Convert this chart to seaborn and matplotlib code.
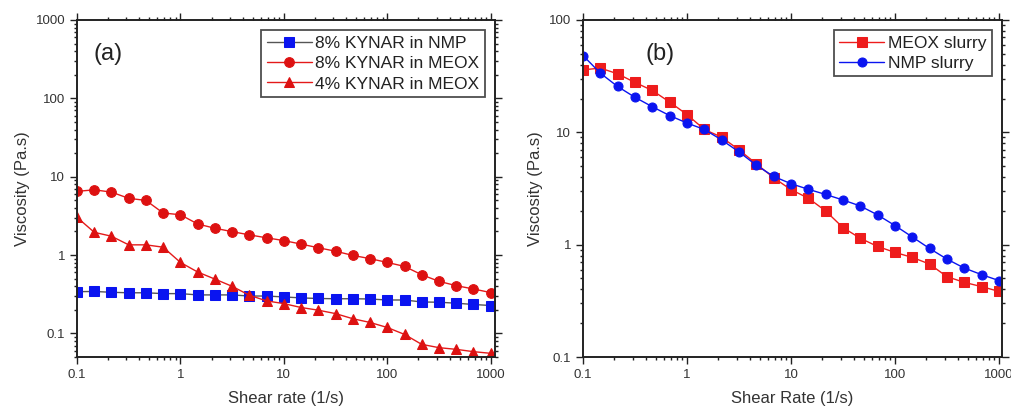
import numpy as np
import pandas as pd
import matplotlib
matplotlib.use("Agg")
import matplotlib.pyplot as plt
import matplotlib.ticker as mticker
import seaborn as sns

# shear rate grid (6 points per decade, 0.1 .. 1000)
shear = [0.1, 0.147, 0.215, 0.316, 0.464, 0.681, 1.0, 1.47, 2.15, 3.16, 4.64, 6.81,
         10.0, 14.7, 21.5, 31.6, 46.4, 68.1, 100.0, 147.0, 215.0, 316.0, 464.0, 681.0, 1000.0]

# panel (a)
kynar8_nmp = [0.341, 0.343, 0.335, 0.330, 0.330, 0.322, 0.322, 0.310, 0.310, 0.310, 0.300, 0.300,
              0.292, 0.284, 0.279, 0.277, 0.277, 0.275, 0.267, 0.267, 0.252, 0.250, 0.243, 0.234, 0.227]
kynar8_meox = [6.5, 6.8, 6.36, 5.3, 4.98, 3.44, 3.27, 2.49, 2.2, 1.99, 1.81, 1.66,
               1.53, 1.38, 1.24, 1.12, 0.99, 0.90, 0.805, 0.716, 0.561, 0.462, 0.407, 0.369, 0.332]
kynar4_meox = [3.03, 1.95, 1.74, 1.35, 1.35, 1.26, 0.805, 0.607, 0.494, 0.399, 0.307, 0.260,
               0.240, 0.214, 0.198, 0.179, 0.154, 0.138, 0.119, 0.097, 0.0725, 0.0658, 0.0626, 0.0585, 0.0557]

# panel (b)
meox_slurry = [36.0, 37.3, 33.2, 27.8, 23.6, 18.6, 14.4, 10.6, 9.06, 6.99, 5.25, 3.94,
               3.09, 2.59, 2.0, 1.42, 1.14, 0.964, 0.853, 0.77, 0.672, 0.519, 0.462, 0.423, 0.384]
nmp_slurry = [48.3, 33.6, 25.6, 20.5, 16.9, 14.1, 12.1, 10.6, 8.57, 6.70, 5.1, 4.05,
              3.49, 3.11, 2.80, 2.50, 2.21, 1.84, 1.48, 1.17, 0.925, 0.744, 0.619, 0.541, 0.479]

xticks = [0.1, 1, 10, 100, 1000]
xticklabels = ["0.1", "1", "10", "100", "1000"]
yticks_a = [0.1, 1, 10, 100, 1000]
yticklabels_a = ["0.1", "1", "10", "100", "1000"]
yticks_b = [0.1, 1, 10, 100]
yticklabels_b = ["0.1", "1", "10", "100"]

sns.set_style("ticks")
plt.rcParams["font.family"] = ["Liberation Sans", "DejaVu Sans"]

fig = plt.figure(figsize=(10.12, 4.09), dpi=100)
W, H = 1012, 409
axA = fig.add_axes([77 / W, 1 - 357 / H, (495 - 77) / W, (357 - 20) / H])
axB = fig.add_axes([583 / W, 1 - 357 / H, (1002 - 583) / W, (357 - 20) / H])

RED = "#ee1c1c"
BLUE = "#0a14f0"
GRAY = "#555555"

def series(ax, y, label, color, lc, marker, ms):
    df = pd.DataFrame({"x": shear, "y": y})
    sns.lineplot(data=df, x="x", y="y", ax=ax, color=lc, marker=marker, markersize=ms,
                 markerfacecolor=color, markeredgecolor=color, linewidth=1.0, label=label)

for ax in (axA, axB):
    ax.set_xscale("log")
    ax.set_yscale("log")

series(axA, kynar8_nmp, "8% KYNAR in NMP", BLUE, GRAY, "s", 6.5)
series(axA, kynar8_meox, "8% KYNAR in MEOX", "#dd1111", "#e41a1a", "o", 7)
series(axA, kynar4_meox, "4% KYNAR in MEOX", "#dd1111", "#e41a1a", "^", 7.5)

series(axB, meox_slurry, "MEOX slurry", RED, RED, "s", 6.5)
series(axB, nmp_slurry, "NMP slurry", BLUE, BLUE, "o", 6.5)

def style(ax, yticks, ylabels, ylim, xlabel, panel, xlim):
    ax.set_xlim(*xlim)
    ax.set_ylim(*ylim)
    ax.set_xticks(xticks)
    ax.set_xticklabels(xticklabels)
    ax.set_yticks(yticks)
    ax.set_yticklabels(ylabels)
    ax.xaxis.set_minor_locator(mticker.LogLocator(base=10, subs=np.arange(2, 10)))
    ax.yaxis.set_minor_locator(mticker.LogLocator(base=10, subs=np.arange(2, 10)))
    ax.xaxis.set_minor_formatter(mticker.NullFormatter())
    ax.yaxis.set_minor_formatter(mticker.NullFormatter())
    ax.tick_params(which="both", direction="out", top=True, right=True, colors="#222222",
                   labelcolor="#333333", labelsize=9.5, width=1.0)
    ax.tick_params(which="major", length=5)
    ax.tick_params(which="minor", length=2.5)
    for s in ax.spines.values():
        s.set_visible(True)
        s.set_linewidth(1.4)
        s.set_color("#222222")
    ax.set_xlabel(xlabel, fontsize=12, color="#333333", labelpad=7)
    ax.set_ylabel("Viscosity (Pa.s)", fontsize=12, color="#333333", labelpad=4)
    ax.text(0.04 if panel == "(a)" else 0.15, 0.90, panel, transform=ax.transAxes,
            fontsize=17, color="#222222", va="center", ha="left")
    leg = ax.legend(loc="upper right", fontsize=12.5, frameon=True, fancybox=False,
                    edgecolor="#222222", handlelength=2.6, handletextpad=0.2,
                    borderpad=0.3, labelspacing=0.3, borderaxespad=0.6)
    leg.get_frame().set_linewidth(1.3)
    for t in leg.get_texts():
        t.set_color("#222222")

style(axA, yticks_a, yticklabels_a, (0.05, 1000), "Shear rate (1/s)", "(a)", (0.1, 1100))
style(axB, yticks_b, yticklabels_b, (0.1, 100), "Shear Rate (1/s)", "(b)", (0.1, 1070))

fig.savefig("out.png", dpi=100)
